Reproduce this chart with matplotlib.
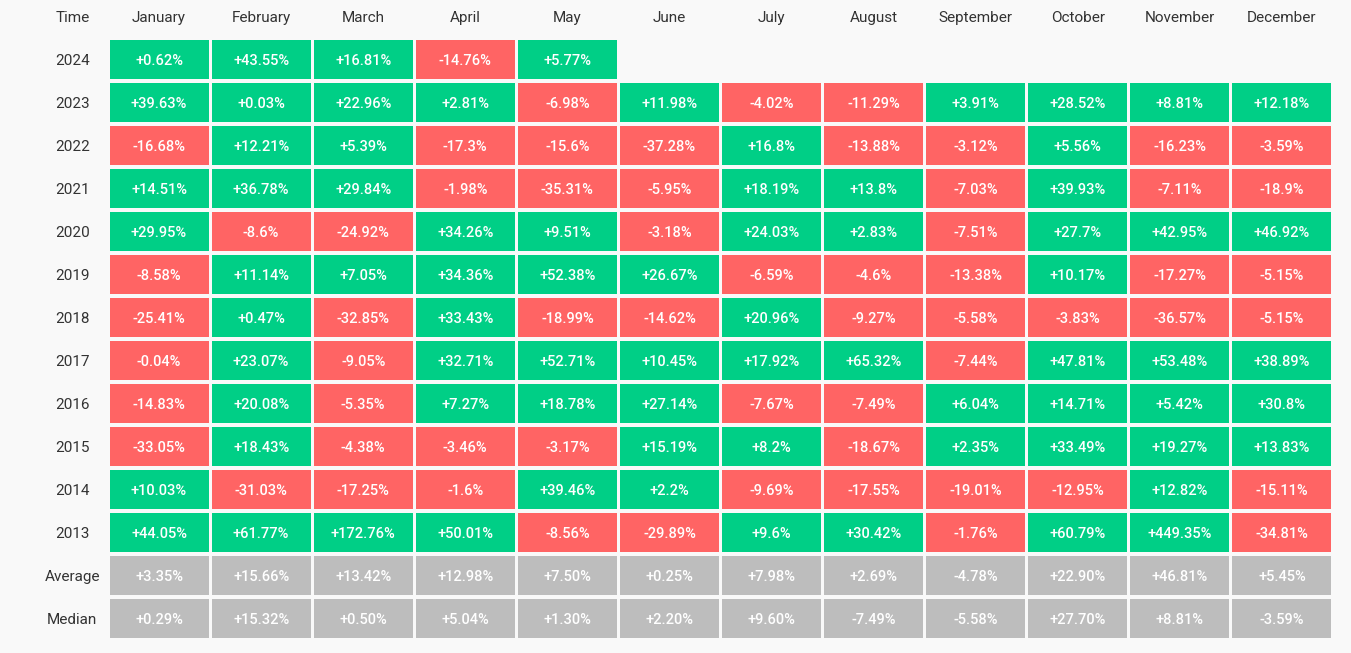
import matplotlib.pyplot as plt
from matplotlib.patches import Rectangle

months = ["January", "February", "March", "April", "May", "June", "July",
          "August", "September", "October", "November", "December"]
rows = ["2024", "2023", "2022", "2021", "2020", "2019", "2018", "2017",
        "2016", "2015", "2014", "2013", "Average", "Median"]

r2024 = [0.62, 43.55, 16.81, -14.76, 5.77, None, None, None, None, None, None, None]
r2023 = [39.63, 0.03, 22.96, 2.81, -6.98, 11.98, -4.02, -11.29, 3.91, 28.52, 8.81, 12.18]
r2022 = [-16.68, 12.21, 5.39, -17.3, -15.6, -37.28, 16.8, -13.88, -3.12, 5.56, -16.23, -3.59]
r2021 = [14.51, 36.78, 29.84, -1.98, -35.31, -5.95, 18.19, 13.8, -7.03, 39.93, -7.11, -18.9]
r2020 = [29.95, -8.6, -24.92, 34.26, 9.51, -3.18, 24.03, 2.83, -7.51, 27.7, 42.95, 46.92]
r2019 = [-8.58, 11.14, 7.05, 34.36, 52.38, 26.67, -6.59, -4.6, -13.38, 10.17, -17.27, -5.15]
r2018 = [-25.41, 0.47, -32.85, 33.43, -18.99, -14.62, 20.96, -9.27, -5.58, -3.83, -36.57, -5.15]
r2017 = [-0.04, 23.07, -9.05, 32.71, 52.71, 10.45, 17.92, 65.32, -7.44, 47.81, 53.48, 38.89]
r2016 = [-14.83, 20.08, -5.35, 7.27, 18.78, 27.14, -7.67, -7.49, 6.04, 14.71, 5.42, 30.8]
r2015 = [-33.05, 18.43, -4.38, -3.46, -3.17, 15.19, 8.2, -18.67, 2.35, 33.49, 19.27, 13.83]
r2014 = [10.03, -31.03, -17.25, -1.6, 39.46, 2.2, -9.69, -17.55, -19.01, -12.95, 12.82, -15.11]
r2013 = [44.05, 61.77, 172.76, 50.01, -8.56, -29.89, 9.6, 30.42, -1.76, 60.79, 449.35, -34.81]
average = [3.35, 15.66, 13.42, 12.98, 7.50, 0.25, 7.98, 2.69, -4.78, 22.90, 46.81, 5.45]
median = [0.29, 15.32, 0.50, 5.04, 1.30, 2.20, 9.60, -7.49, -5.58, 27.70, 8.81, -3.59]

year_rows = [r2024, r2023, r2022, r2021, r2020, r2019, r2018, r2017,
             r2016, r2015, r2014, r2013]

GREEN = "#00cf86"
RED = "#ff6464"
GRAY = "#bdbdbd"
BG = "#f9f9f9"

plt.rcParams['font.family'] = ['Roboto', 'DejaVu Sans']

W, H = 1351, 653
fig = plt.figure(figsize=(W / 100, H / 100), dpi=100, facecolor=BG)
ax = fig.add_axes([108 / W, 13 / H, 1225 / W, 602 / H])
ax.set_xlim(0, 12)
ax.set_ylim(14, 0)
ax.axis("off")

gx, gy = 0.015, 0.035
for i, name in enumerate(rows):
    ax.text(-0.35, i + 0.5, name, ha="center", va="center_baseline",
            fontsize=11, color="#333333", clip_on=False)
    if i < 12:
        vals = year_rows[i]
    else:
        vals = average if i == 12 else median
    for j, v in enumerate(vals):
        if v is None:
            continue
        if i >= 12:
            color, txt = GRAY, f"{v:+.2f}%"
        else:
            color = GREEN if v >= 0 else RED
            txt = f"{v:+g}%"
        ax.add_patch(Rectangle((j + gx, i + gy), 1 - 2 * gx, 1 - 2 * gy,
                               facecolor=color, edgecolor="none"))
        ax.text(j + 0.5, i + 0.5, txt, ha="center", va="center_baseline",
                fontsize=10.5, color="white", fontweight="medium")

ax.text(-0.35, -0.5, "Time", ha="center", va="center_baseline", fontsize=11,
        color="#333333", clip_on=False)
for j, m in enumerate(months):
    ax.text(j + 0.5, -0.5, m, ha="center", va="center_baseline", fontsize=11,
            color="#333333", clip_on=False)

fig.savefig("out.png", dpi=100, facecolor=BG)
